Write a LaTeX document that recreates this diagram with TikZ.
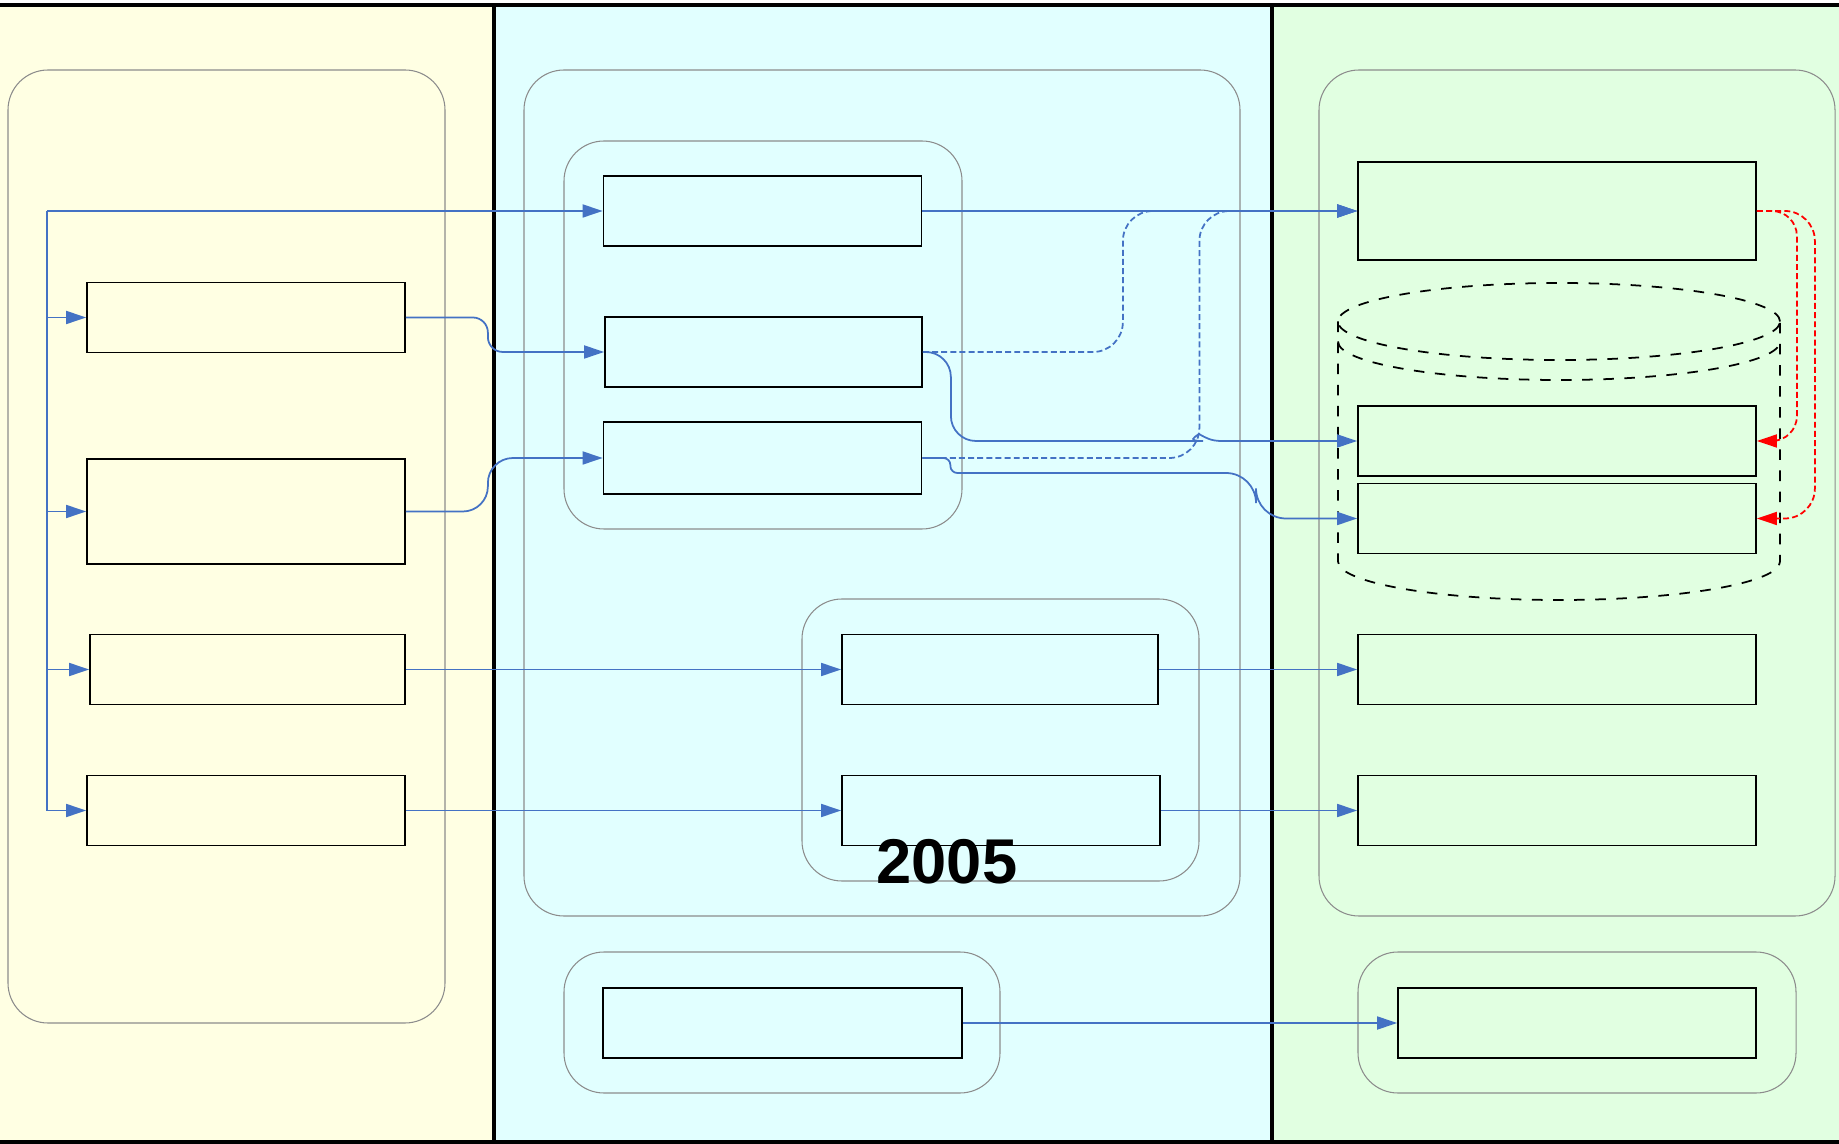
\documentclass[tikz,border=0pt]{standalone}
\usepackage{fontspec}
\setmainfont{Liberation Sans}
\usetikzlibrary{arrows.meta}
\definecolor{paneyellow}{HTML}{FFFFE3}
\definecolor{panecyan}{HTML}{E1FFFF}
\definecolor{panegreen}{HTML}{E1FFE1}
\definecolor{linkblue}{HTML}{4472C4}
\begin{document}
\begin{tikzpicture}[>={Triangle[length=2mm,width=1.3mm]},
  box/.style={draw, rectangle, line width=0.5pt, minimum width=3.18cm, minimum height=0.7cm, inner sep=0pt},
  group/.style={draw=gray!90, line width=0.3pt, rounded corners=0.4cm},
  pane/.style={draw, line width=1pt},
  link/.style={->, linkblue, line width=0.5pt},
  dlink/.style={link, dash pattern=on 1.7pt off 0.9pt},
  rlink/.style={->, red, line width=0.5pt, dash pattern=on 1.7pt off 0.9pt}]
\useasboundingbox (0,0) rectangle (18.39,-11.44);

% panes
\draw[pane, fill=paneyellow] (-0.1,-0.05) rectangle (4.94,-11.42);
\draw[pane, fill=panecyan] (4.94,-0.05) rectangle (12.72,-11.42);
\draw[pane, fill=panegreen] (12.72,-0.05) rectangle (18.5,-11.42);

% groups
\draw[group] (0.08,-0.70) rectangle (4.45,-10.23);
\draw[group] (5.24,-0.70) rectangle (12.40,-9.16);
\draw[group] (5.64,-1.41) rectangle (9.62,-5.29);
\draw[group] (8.02,-5.99) rectangle (11.99,-8.81);
\draw[group] (5.64,-9.52) rectangle (10.00,-10.93);
\draw[group] (13.19,-0.70) rectangle (18.35,-9.16);
\draw[group] (13.58,-9.52) rectangle (17.96,-10.93);

% store
\draw[dashed, line width=0.5pt] (15.59,-3.215) ellipse (2.21 and 0.385);
\draw[dashed, line width=0.5pt] (13.38,-3.415) arc (180:360:2.21 and 0.385);
\draw[dashed, line width=0.5pt] (13.38,-3.215) -- (13.38,-5.615) arc (180:360:2.21 and 0.385) -- (17.80,-3.215);

\node[box] (L1) at (2.46,-3.175) {};
\node[box, minimum height=1.05cm] (L2) at (2.46,-5.115) {};
\node[box, minimum width=3.15cm] (L3) at (2.475,-6.695) {};
\node[box] (L4) at (2.46,-8.105) {};

\node[box] (M1) at (7.625,-2.11) {};
\node[box, minimum width=3.17cm] (M2) at (7.635,-3.52) {};
\node[box, minimum height=0.72cm] (M3) at (7.625,-4.58) {};
\node[box, minimum width=3.16cm] (M4) at (10.00,-6.695) {};
\node[box] (M5) at (10.01,-8.105) {};
\node[box, minimum width=3.59cm] (M6) at (7.825,-10.23) {};

\node[box, minimum width=3.98cm, minimum height=0.98cm] (R1) at (15.57,-2.11) {};
\node[box, minimum width=3.98cm] (R2) at (15.57,-4.41) {};
\node[box, minimum width=3.98cm] (R3) at (15.57,-5.185) {};
\node[box, minimum width=3.98cm] (R4) at (15.57,-6.695) {};
\node[box, minimum width=3.98cm] (R5) at (15.57,-8.105) {};
\node[box, minimum width=3.58cm] (R6) at (15.77,-10.23) {};

\coordinate (feed) at (0.47,-2.11);
\coordinate (hop) at (11.99,-4.34);

% links
\draw[link] (feed) -- (M1);
\draw[link] (feed) |- (L1);
\draw[link] (feed) |- (L2);
\draw[link] (feed) |- (L3);
\draw[link] (feed) |- (L4);
\draw[link, rounded corners=1.5mm] (L1.east) -- ++(0.82,0) |- (M2);
\draw[link, rounded corners=2.5mm] (L2.east) -- ++(0.82,0) |- (M3);
\draw[link] (L3) -- (M4);
\draw[link] (L4) -- (M5);
\draw[link] (M1) -- (R1);
\draw[dlink, rounded corners=3mm] (M2.east) -- ++(2,0) |- (R1);
\draw[dlink, rounded corners=3mm] (M3.east) -- ++(2.77,0) |- (R1);
\draw[link] {[rounded corners=2.5mm] (M2.east) -- ++(0.28,0) |- (11.78,-4.41)} .. controls (11.88,-4.41) and (11.93,-4.38) .. (hop) .. controls (12.06,-4.38) and (12.11,-4.41) .. (12.22,-4.41) -- (R2);
\draw[link, rounded corners=0.7mm] (M3.east) -- ++(0.28,0) |- (11.6,-4.73) [rounded corners=3mm] -- (12.56,-4.73) |- (R3);
\draw[link] (M4) -- (R4);
\draw[link] (M5) -- (R5);
\draw[link] (M6) -- (R6);
\draw[rlink, rounded corners=2.5mm] (R1.east) -- ++(0.40,0) |- (R2);
\draw[rlink, rounded corners=3mm] (R1.east) -- ++(0.58,0) |- (R3);

\node[font=\bfseries\fontsize{18}{20}\selectfont, inner sep=0pt] (year) at (9.47,-8.615) {2005};
\end{tikzpicture}
\end{document}
